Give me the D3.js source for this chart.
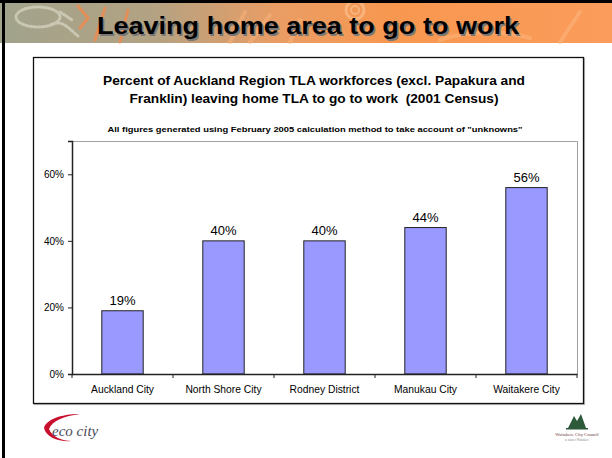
<!DOCTYPE html>
<html>
<head>
<meta charset="utf-8">
<script src="https://cdn.jsdelivr.net/npm/d3@7"></script>
<style>
  html, body { margin: 0; padding: 0; background: #fff; }
  svg { display: block; font-family: Arial, "Liberation Sans", sans-serif; }
  text { white-space: pre; }
</style>
</head>
<body>
<svg id="vis" width="612" height="458"></svg>
<script>
// chart data
var categories = ["Auckland City", "North Shore City", "Rodney District", "Manukau City", "Waitakere City"];
var values = [19, 40, 40, 44, 56];
var yTicks = [0, 20, 40, 60];

var pageTitle = "Leaving home area to go to work";
var chartTitle = ["Percent of Auckland Region TLA workforces (excl. Papakura and",
                  "Franklin) leaving home TLA to go to work  (2001 Census)"];
var titleWidths = [422, 369];
var chartNote = "All figures generated using February 2005 calculation method to take account of \"unknowns\"";

function intro() {
    var svg = d3.select("#vis");
    drawHeader(svg);
    drawChart(svg);
    drawFooter(svg);
}
window.onload = intro;

function drawHeader(svg) {
    var defs = svg.append("defs");
    var grad = defs.append("linearGradient").attr("id", "band")
        .attr("x1", 0).attr("x2", 1).attr("y1", 0).attr("y2", 0);
    grad.append("stop").attr("offset", "0%").attr("stop-color", "#a1a38c");
    grad.append("stop").attr("offset", "25%").attr("stop-color", "#b3a283");
    grad.append("stop").attr("offset", "45%").attr("stop-color", "#e99d64");
    grad.append("stop").attr("offset", "65%").attr("stop-color", "#f8974f");
    grad.append("stop").attr("offset", "100%").attr("stop-color", "#fb9c5c");

    svg.append("rect").attr("x", 0).attr("y", 0).attr("width", 612).attr("height", 43)
        .attr("fill", "url(#band)");

    // faint decorative swirls
    var deco = svg.append("g").attr("fill", "none").attr("stroke-linecap", "round");
    deco.append("ellipse").attr("cx", 38).attr("cy", 17).attr("rx", 22).attr("ry", 10)
        .attr("stroke", "#c9c6b2").attr("stroke-width", 3).attr("stroke-dasharray", "2 2");
    deco.append("path").attr("d", "M50,25 C62,18 70,30 78,36 M60,12 L72,20")
        .attr("stroke", "#c9c6b2").attr("stroke-width", 3).attr("stroke-dasharray", "2 2");
    deco.append("path").attr("d", "M78,6 L88,18 L80,28 M95,40 L105,8 M120,42 L128,10")
        .attr("stroke", "#f08a4c").attr("stroke-width", 3).attr("opacity", 0.8);
    deco.append("path").attr("d", "M230,42 L245,12 M250,42 L270,15 M290,42 L300,20")
        .attr("stroke", "#f6b07a").attr("stroke-width", 4).attr("opacity", 0.6);
    deco.append("circle").attr("cx", 355).attr("cy", 10).attr("r", 9)
        .attr("stroke", "#fbbf8e").attr("stroke-width", 3).attr("opacity", 0.7);
    deco.append("circle").attr("cx", 355).attr("cy", 10).attr("r", 4)
        .attr("stroke", "#fbbf8e").attr("stroke-width", 2).attr("opacity", 0.7);
    deco.append("path").attr("d", "M440,40 C470,30 500,30 530,38 M560,42 L580,12")
        .attr("stroke", "#fbb47c").attr("stroke-width", 4).attr("opacity", 0.6);

    // frame lines at top and left
    svg.append("rect").attr("x", 0).attr("y", 0).attr("width", 612).attr("height", 3).attr("fill", "#000");
    svg.append("rect").attr("x", 2).attr("y", 0).attr("width", 3).attr("height", 458).attr("fill", "#000");

    [["#777", 1.5], ["#000", 0]].forEach(function(s) {
        svg.append("text").attr("x", 97 + s[1]).attr("y", 34 + s[1])
            .attr("font-size", 23).attr("font-weight", "bold")
            .attr("textLength", 422).attr("lengthAdjust", "spacingAndGlyphs")
            .attr("fill", s[0]).text(pageTitle);
    });
}

function drawChart(svg) {
    // chart box
    svg.append("rect").attr("x", 34.5).attr("y", 58.5).attr("width", 550).attr("height", 346)
        .attr("fill", "none").attr("stroke", "#bbb").attr("stroke-width", 1.2);
    svg.append("rect").attr("x", 33.5).attr("y", 57.5).attr("width", 550).attr("height", 346)
        .attr("fill", "#fff").attr("stroke", "#111").attr("stroke-width", 1.3);

    var titleG = svg.append("g").attr("text-anchor", "middle").attr("font-weight", "bold").attr("fill", "#000");
    titleG.selectAll("text.t").data(chartTitle).enter().append("text")
        .attr("class", "t")
        .attr("x", 314)
        .attr("y", function(d, i) { return 84.5 + i * 18.5; })
        .attr("font-size", 12.5)
        .attr("textLength", function(d, i) { return titleWidths[i]; })
        .attr("lengthAdjust", "spacingAndGlyphs")
        .text(function(d) { return d; });
    titleG.append("text").attr("x", 315).attr("y", 131.5)
        .attr("font-size", 8)
        .attr("textLength", 415).attr("lengthAdjust", "spacingAndGlyphs")
        .text(chartNote);

    var left = 72, right = 577, top = 141, bottom = 374;

    var x = d3.scaleBand().domain(categories).range([left, right]).paddingInner(0).paddingOuter(0);
    var y = d3.scaleLinear().domain([0, 70]).range([bottom, top]);

    // plot area border (top and right)
    svg.append("path")
        .attr("d", "M" + left + "," + (top + 0.5) + "H" + (right + 0.5) + "V" + bottom)
        .attr("fill", "none").attr("stroke", "#a0a0a0").attr("stroke-width", 1);

    var barW = x.bandwidth() * 0.41;
    svg.append("g").selectAll("rect")
        .data(values)
        .enter().append("rect")
        .attr("x", function(d, i) { return x(categories[i]) + (x.bandwidth() - barW) / 2; })
        .attr("y", function(d) { return y(d); })
        .attr("width", barW)
        .attr("height", function(d) { return y(0) - y(d); })
        .attr("fill", "#9999ff")
        .attr("stroke", "#222")
        .attr("stroke-width", 1);

    svg.append("g").selectAll("text")
        .data(values)
        .enter().append("text")
        .attr("x", function(d, i) { return x(categories[i]) + x.bandwidth() / 2; })
        .attr("y", function(d) { return y(d) - 6; })
        .attr("text-anchor", "middle")
        .attr("font-size", 13)
        .attr("fill", "#000")
        .text(function(d) { return d + "%"; });

    var yAxis = svg.append("g").attr("transform", "translate(" + left + ",0)")
        .call(d3.axisLeft(y).tickValues(yTicks).tickSize(4).tickPadding(4)
            .tickFormat(function(d) { return d + "%"; }));
    yAxis.select(".domain").attr("stroke", "#222").attr("stroke-width", 1.5);
    yAxis.selectAll(".tick line").attr("stroke", "#222");
    yAxis.selectAll(".tick text").attr("font-size", 10).attr("font-family", "Arial, 'Liberation Sans', sans-serif").attr("fill", "#000");

    var xAxis = svg.append("g").attr("transform", "translate(0," + bottom + ")")
        .call(d3.axisBottom(x).tickSize(0).tickPadding(12));
    xAxis.select(".domain").attr("stroke", "#222").attr("stroke-width", 1.5);
    xAxis.selectAll(".tick text").attr("font-size", 10.3).attr("font-family", "Arial, 'Liberation Sans', sans-serif").attr("fill", "#000");

    // category separator ticks
    var seps = categories.map(function(c) { return x(c); }).concat([right]);
    svg.append("g").selectAll("line")
        .data(seps)
        .enter().append("line")
        .attr("x1", function(d) { return d; }).attr("x2", function(d) { return d; })
        .attr("y1", bottom).attr("y2", bottom + 4)
        .attr("stroke", "#222").attr("stroke-width", 1);
}

function drawFooter(svg) {
    // eco city logo
    var eco = svg.append("g");
    eco.append("path")
        .attr("d", "M44,428 C46,420 60,414 80,414 C64,416 52,421 49,429 C52,437 62,441 72,441 C58,442 46,437 44,428 Z")
        .attr("fill", "#c8102e");
    eco.append("text").attr("x", 52).attr("y", 436)
        .attr("font-family", "'Liberation Serif', 'DejaVu Serif', serif")
        .attr("font-style", "italic").attr("font-size", 15).attr("fill", "#4a4a5a")
        .text("eco city");

    // Waitakere City Council logo
    var wcc = svg.append("g");
    wcc.append("path")
        .attr("d", "M568,428 L574,416 L577,421 L581,414 L586,428 Z")
        .attr("fill", "#2d5a3a");
    wcc.append("rect").attr("x", 566).attr("y", 428).attr("width", 22).attr("height", 1.5).attr("fill", "#2d5a3a");
    wcc.append("text").attr("x", 577).attr("y", 436)
        .attr("text-anchor", "middle")
        .attr("font-family", "'Liberation Serif', serif")
        .attr("font-size", 4.6).attr("fill", "#6b3b3b")
        .text("Waitakere City Council");
    wcc.append("text").attr("x", 577).attr("y", 441)
        .attr("text-anchor", "middle")
        .attr("font-family", "'Liberation Serif', serif")
        .attr("font-size", 3).attr("fill", "#888")
        .text("te taiao o Waitakere");
}
</script>
</body>
</html>
